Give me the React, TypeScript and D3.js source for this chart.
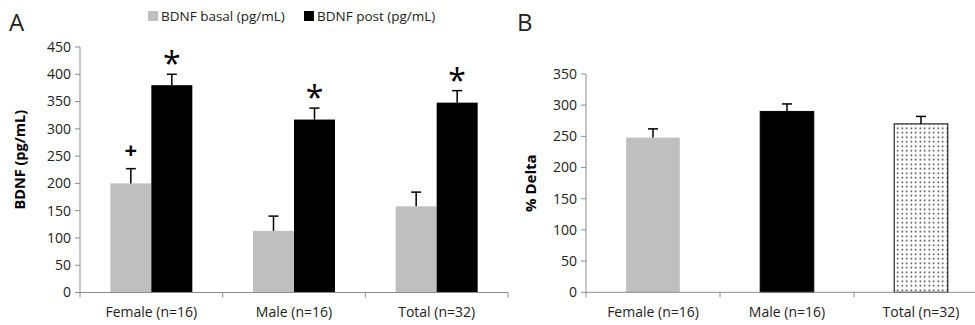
import React from 'react';
import * as d3 from 'd3';

// chart values
const groups = ['Female (n=16)', 'Male (n=16)', 'Total (n=32)'];
const basal = [200, 113, 158];
const basalErr = [27, 27, 26];
const post = [380, 317, 348];
const postErr = [20, 21, 22];
const basalMarks = ['+', '', ''];
const postMarks = ['*', '*', '*'];
const delta = [248, 290, 270];
const deltaErr = [14, 12, 12];
const ticksA = [0, 50, 100, 150, 200, 250, 300, 350, 400, 450];
const ticksB = [0, 50, 100, 150, 200, 250, 300, 350];

const FONT = '"Open Sans", "Liberation Sans", sans-serif';
const GREY = '#bfbfbf';
const AXIS = '#8c8c8c';
const TXT = '#222';

const App = () => {
  // panel A
  const xA = d3.scaleBand<string>().domain(groups).range([80, 508]);
  const yA = d3.scaleLinear().domain([0, 450]).range([292.5, 47]);
  const barA = 41;
  // panel B
  const xB = d3.scaleBand<string>().domain(groups).range([586, 988]);
  const yB = d3.scaleLinear().domain([0, 350]).range([292.3, 74]);
  const barB = xB.bandwidth() * 0.4;

  const errBar = (cx: number, top: number, yTop: number, key: string) => (
    <g key={key} stroke="#000" strokeWidth={1.5}>
      <line x1={cx} x2={cx} y1={top} y2={yTop} />
      <line x1={cx - 5} x2={cx + 5} y1={yTop} y2={yTop} />
    </g>
  );

  const xAxis = (x: d3.ScaleBand<string>, y0: number, x1: number, key: string) => {
    const edges = groups.map(g => x(g)!).concat([x(groups[groups.length - 1])! + x.bandwidth()]);
    return (
      <g key={key} stroke={AXIS} strokeWidth={1}>
        <line x1={x.range()[0]} x2={x1} y1={y0} y2={y0} />
        {edges.map((e, i) => (
          <line key={i} x1={e} x2={e} y1={y0} y2={y0 + 5} />
        ))}
      </g>
    );
  };

  const yAxis = (y: d3.ScaleLinear<number, number>, x0: number, ticks: number[]) => (
    <g>
      <line x1={x0} x2={x0} y1={y(0)} y2={y(ticks[ticks.length - 1])} stroke={AXIS} />
      {ticks.map(t => (
        <g key={t}>
          <line x1={x0 - 5} x2={x0} y1={y(t)} y2={y(t)} stroke={AXIS} />
          <text x={x0 - 9} y={y(t)} dy="0.35em" textAnchor="end" fontSize={14} fill={TXT}>
            {t}
          </text>
        </g>
      ))}
    </g>
  );

  return (
    <svg
      width={975}
      height={325}
      style={{ position: 'absolute', left: 0, top: 0, background: '#fff' }}
      fontFamily={FONT}
    >
      <defs>
        <pattern id="dots" width={4.5} height={4.5} patternUnits="userSpaceOnUse">
          <rect width={4.5} height={4.5} fill="#fff" />
          <circle cx={2.25} cy={2.25} r={0.8} fill="#222" />
        </pattern>
      </defs>

      {/* Panel A */}
      <text x={9} y={31} fontSize={24} fill={TXT}>A</text>
      <rect x={148} y={11} width={10} height={10} fill={GREY} />
      <text x={161} y={21} fontSize={13.5} fill={TXT}>BDNF basal (pg/mL)</text>
      <rect x={304} y={11} width={10} height={10} fill="#000" />
      <text x={317} y={21} fontSize={13.5} fill={TXT}>BDNF post (pg/mL)</text>

      {groups.map((g, i) => {
        const cx = xA(g)! + xA.bandwidth() / 2;
        const bx = cx - barA, px = cx;
        const bTop = yA(basal[i] + basalErr[i]);
        const pTop = yA(post[i] + postErr[i]);
        return (
          <g key={g}>
            <rect x={bx} y={yA(basal[i])} width={barA} height={yA(0) - yA(basal[i])} fill={GREY} />
            <rect x={px} y={yA(post[i])} width={barA} height={yA(0) - yA(post[i])} fill="#000" />
            {errBar(bx + barA / 2, yA(basal[i]), bTop, 'eb')}
            {errBar(px + barA / 2, yA(post[i]), pTop, 'ep')}
            {basalMarks[i] && (
              <text x={bx + barA / 2} y={bTop - 11} textAnchor="middle" fontSize={22} fontWeight="bold" fill="#000">
                {basalMarks[i]}
              </text>
            )}
            {postMarks[i] && (
              <text x={px + barA / 2} y={pTop + 1} textAnchor="middle" fontSize={32} fill="#000">
                {postMarks[i]}
              </text>
            )}
            <text x={cx} y={317} textAnchor="middle" fontSize={14} fill={TXT}>{g}</text>
          </g>
        );
      })}
      {xAxis(xA, yA(0), 508, 'xa')}
      {yAxis(yA, 80, ticksA)}
      <text
        transform={`translate(25, ${(yA(0) + yA(450)) / 2 - 10}) rotate(-90)`}
        textAnchor="middle"
        fontSize={14.5}
        fontWeight="bold"
        fill="#000"
      >
        BDNF (pg/mL)
      </text>

      {/* Panel B */}
      <text x={517} y={31} fontSize={24} fill={TXT}>B</text>
      {groups.map((g, i) => {
        const cx = xB(g)! + xB.bandwidth() / 2;
        const fill = i === 0 ? GREY : i === 1 ? '#000' : 'url(#dots)';
        return (
          <g key={g}>
            <rect
              x={cx - barB / 2}
              y={yB(delta[i])}
              width={barB}
              height={yB(0) - yB(delta[i])}
              fill={fill}
              stroke={i === 0 ? 'none' : '#000'}
              strokeWidth={1}
            />
            {errBar(cx, yB(delta[i]), yB(delta[i] + deltaErr[i]), 'e')}
            <text x={cx} y={317} textAnchor="middle" fontSize={14} fill={TXT}>{g}</text>
          </g>
        );
      })}
      {xAxis(xB, yB(0), 975, 'xb')}
      {yAxis(yB, 586, ticksB)}
      <text
        transform={`translate(536, ${(yB(0) + yB(350)) / 2}) rotate(-90)`}
        textAnchor="middle"
        fontSize={15}
        fontWeight="bold"
        fill="#000"
      >
        % Delta
      </text>
    </svg>
  );
};

export default App;
